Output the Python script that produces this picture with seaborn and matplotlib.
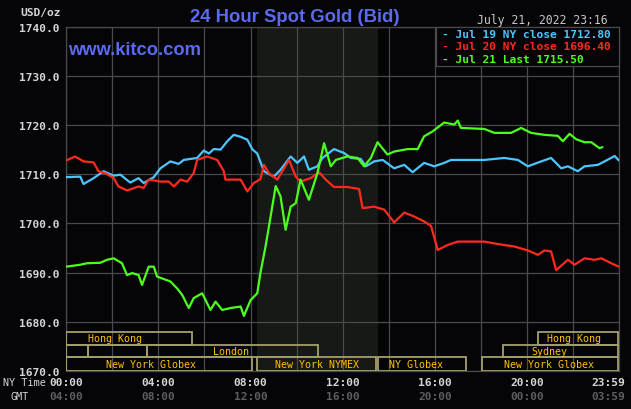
import numpy as np
import pandas as pd
import matplotlib
matplotlib.use("Agg")
import matplotlib.pyplot as plt
import matplotlib.transforms as mtransforms
from matplotlib.patches import Rectangle
import seaborn as sns

# ---------------- data ----------------
jul19_hours = [0.0, 0.61, 0.75, 1.19, 1.62, 2.06, 2.35, 2.78, 3.14, 3.36, 3.80, 4.09, 4.52, 4.88,
               5.10, 5.68, 5.97, 6.19, 6.40, 6.70, 6.99, 7.27, 7.57, 7.86, 8.07, 8.29, 8.58, 9.01,
               9.30, 9.74, 10.03, 10.32, 10.53, 10.90, 11.12, 11.62, 12.06, 12.35, 12.78, 13.00,
               13.36, 13.73, 14.23, 14.67, 15.03, 15.53, 15.97, 16.40, 16.70, 18.14, 19.01, 19.60,
               20.03, 20.61, 21.04, 21.48, 21.77, 22.20, 22.49, 23.07, 23.36, 23.80, 23.98]
jul19_price = [1709.4, 1709.5, 1708.0, 1709.2, 1710.6, 1709.7, 1709.9, 1708.3, 1709.2, 1708.2,
               1709.4, 1711.2, 1712.6, 1712.1, 1712.9, 1713.3, 1714.8, 1714.2, 1715.1, 1715.0,
               1716.7, 1718.0, 1717.6, 1717.0, 1715.1, 1714.2, 1710.6, 1709.5, 1710.9, 1713.6,
               1712.3, 1713.6, 1710.9, 1711.6, 1713.3, 1715.1, 1714.3, 1713.3, 1713.1, 1711.6,
               1712.6, 1712.9, 1711.2, 1711.9, 1710.4, 1712.3, 1711.6, 1712.3, 1712.9, 1712.9,
               1713.3, 1712.9, 1711.6, 1712.6, 1713.3, 1711.2, 1711.6, 1710.6, 1711.6, 1711.9,
               1712.6, 1713.7, 1712.8]

jul20_hours = [0.0, 0.39, 0.75, 1.19, 1.40, 1.70, 2.06, 2.27, 2.64, 3.14, 3.36, 3.58, 4.09, 4.45,
               4.67, 4.96, 5.25, 5.53, 5.68, 6.12, 6.55, 6.84, 6.91, 7.57, 7.86, 8.14, 8.43, 8.58,
               8.80, 9.16, 9.67, 9.96, 10.17, 10.61, 10.97, 11.26, 11.62, 12.20, 12.71, 12.86,
               13.36, 13.80, 14.23, 14.67, 15.10, 15.53, 15.83, 16.12, 16.55, 16.99, 18.14, 18.73,
               19.45, 20.03, 20.47, 20.75, 21.04, 21.26, 21.77, 22.06, 22.49, 22.93, 23.22, 23.65,
               23.98]
jul20_price = [1712.8, 1713.6, 1712.6, 1712.4, 1710.6, 1710.2, 1709.2, 1707.5, 1706.7, 1707.5,
               1707.2, 1708.9, 1708.5, 1708.5, 1707.5, 1708.9, 1708.5, 1710.2, 1712.9, 1713.6,
               1712.9, 1710.6, 1708.9, 1708.9, 1706.5, 1708.2, 1709.0, 1711.9, 1710.2, 1708.9,
               1712.9, 1709.5, 1708.5, 1709.2, 1710.4, 1708.9, 1707.4, 1707.4, 1707.0, 1703.1,
               1703.4, 1702.8, 1700.2, 1702.2, 1701.4, 1700.4, 1699.5, 1694.6, 1695.6, 1696.3,
               1696.3, 1695.8, 1695.3, 1694.5, 1693.6, 1694.5, 1694.3, 1690.5, 1692.6, 1691.6,
               1692.9, 1692.6, 1692.9, 1691.9, 1691.2]

jul21_hours = [0.0, 0.61, 0.90, 1.48, 1.77, 2.06, 2.42, 2.64, 2.86, 3.14, 3.29, 3.58, 3.80, 3.94,
               4.52, 4.81, 5.03, 5.32, 5.53, 5.90, 6.26, 6.48, 6.77, 7.13, 7.57, 7.71, 8.00, 8.29,
               8.43, 8.65, 8.87, 9.09, 9.30, 9.52, 9.74, 9.96, 10.17, 10.53, 10.90, 11.19, 11.48,
               11.70, 12.20, 12.64, 12.93, 13.22, 13.51, 13.94, 14.23, 14.81, 15.25, 15.53, 15.90,
               16.40, 16.84, 16.99, 17.13, 18.14, 18.58, 19.30, 19.74, 20.17, 20.75, 21.33, 21.55,
               21.84, 22.13, 22.49, 22.78, 23.14, 23.27]
jul21_price = [1691.2, 1691.6, 1691.9, 1692.0, 1692.6, 1692.9, 1691.9, 1689.5, 1689.9, 1689.5,
               1687.5, 1691.2, 1691.2, 1689.2, 1688.2, 1686.8, 1685.5, 1682.8, 1684.8, 1685.8,
               1682.4, 1684.1, 1682.4, 1682.8, 1683.1, 1681.2, 1684.4, 1685.8, 1690.0, 1695.3,
               1701.4, 1707.6, 1705.5, 1698.7, 1703.4, 1704.1, 1708.9, 1704.8, 1710.2, 1716.3,
               1711.6, 1712.9, 1713.6, 1713.3, 1711.6, 1713.3, 1716.5, 1714.0, 1714.6, 1715.1,
               1715.1, 1717.7, 1718.7, 1720.5, 1720.1, 1720.9, 1719.4, 1719.2, 1718.4, 1718.4,
               1719.4, 1718.4, 1718.0, 1717.8, 1716.7, 1718.2, 1717.1, 1716.5, 1716.5, 1715.3,
               1715.5]

series_names = ["Jul 19 NY close", "Jul 20 NY close", "Jul 21 Last"]
series_last = ["1712.80", "1696.40", "1715.50"]

y_ticks = [1670, 1680, 1690, 1700, 1710, 1720, 1730, 1740]
x_label_hours = [0, 4, 8, 12, 16, 20, 24]
ny_time_labels = ["00:00", "04:00", "08:00", "12:00", "16:00", "20:00", "23:59"]
gmt_labels = ["04:00", "08:00", "12:00", "16:00", "20:00", "00:00", "03:59"]

nymex_start, nymex_end = 8.26, 13.52

# session boxes: (label, start hour, end hour, row, label hour)
sessions = [
    ("Hong Kong", 0.0, 5.44, 0, 2.12),
    ("Hong Kong", 20.48, 23.93, 0, 22.04),
    ("", 0.0, 0.96, 1, None),
    ("", 0.96, 3.49, 1, None),
    ("London", 3.49, 10.94, 1, 7.15),
    ("Sydney", 18.96, 23.93, 1, 20.96),
    ("New York Globex", 0.0, 8.05, 2, 3.66),
    ("New York NYMEX", 8.26, 13.45, 2, 10.88),
    ("NY Globex", 13.52, 17.33, 2, 15.18),
    ("New York Globex", 18.03, 23.93, 2, 20.95),
]
row_edges = [1677.87, 1675.35, 1672.78, 1670.0]

# ---------------- style ----------------
bg = "#050507"
grid_c = "#4a4a4a"
shade_c = "#161916"
palette = {"Jul 19 NY close": "#4cc6ff", "Jul 20 NY close": "#ff2a1e", "Jul 21 Last": "#4cff1e"}
blue_c = "#5b6bef"
box_edge = "#a39f6c"
sess_text = "#ffc200"
tick_c = "#d4d4d4"
gmt_c = "#5e5e5e"

sns.set_theme(style="dark", rc={"axes.facecolor": bg, "figure.facecolor": bg})
plt.rcParams["font.family"] = ["DejaVu Sans Mono", "DejaVu Sans"]

df = pd.concat([
    pd.DataFrame({"hour": jul19_hours, "price": jul19_price, "series": series_names[0]}),
    pd.DataFrame({"hour": jul20_hours, "price": jul20_price, "series": series_names[1]}),
    pd.DataFrame({"hour": jul21_hours, "price": jul21_price, "series": series_names[2]}),
], ignore_index=True)

W, H = 631, 410
fig = plt.figure(figsize=(W / 100, H / 100), dpi=100, facecolor=bg)
ax_l, ax_r, ax_t, ax_b = 66.2, 619.3, 27.6, 372.0
ax = fig.add_axes([ax_l / W, 1 - ax_b / H, (ax_r - ax_l) / W, (ax_b - ax_t) / H])
ax.set_facecolor(bg)

ax.axvspan(nymex_start, nymex_end, color=shade_c, zorder=0, lw=0)

sns.lineplot(data=df, x="hour", y="price", hue="series", palette=palette,
             hue_order=series_names, legend=False, ax=ax, lw=1.6, zorder=3,
             estimator=None, sort=False)

ax.set_xlim(0, 24)
ax.set_ylim(1670, 1740)
ax.set_xticks(np.arange(0, 25, 2))
ax.set_xticklabels([])
ax.set_yticks(y_ticks)
ax.set_yticklabels([f"{v:.1f}" for v in y_ticks], color=tick_c, fontsize=8.1,
                   fontweight="bold", family="DejaVu Sans Mono")
ax.tick_params(axis="both", length=0)
ax.tick_params(axis="y", pad=4.5)
ax.set_xlabel("")
ax.set_ylabel("")
ax.grid(True, color=grid_c, lw=0.9)
ax.set_axisbelow(True)
for s in ax.spines.values():
    s.set_color(grid_c)
    s.set_linewidth(0.9)

# session boxes
for name, x0, x1, row, lx in sessions:
    y_top, y_bot = row_edges[row], row_edges[row + 1]
    ax.add_patch(Rectangle((x0, y_bot), x1 - x0, y_top - y_bot, fill=False,
                           edgecolor=box_edge, lw=1.3, zorder=4))
    if name:
        ax.text(lx, (y_top + y_bot) / 2, name, ha="center", va="center",
                color=sess_text, fontsize=7.2, family="DejaVu Sans Mono", zorder=5)

# legend box
lb = Rectangle((0.668, 0.8865), 0.332, 0.1135, transform=ax.transAxes,
               facecolor=bg, edgecolor=grid_c, lw=0.9, zorder=6, clip_on=False)
ax.add_patch(lb)
for i, (name, last) in enumerate(zip(series_names, series_last)):
    ax.text(0.6801, 0.9707 - i * 0.0365, f"- {name} {last}", transform=ax.transAxes,
            ha="left", va="baseline", color=palette[name], fontsize=8.1,
            fontweight="bold", family="DejaVu Sans Mono", zorder=7)

# x labels (two rows)
trans = mtransforms.blended_transform_factory(ax.transData, ax.transAxes)
for h, ny, gmt in zip(x_label_hours, ny_time_labels, gmt_labels):
    if h == 24:
        off = mtransforms.offset_copy(trans, fig=fig, x=5.5, y=0, units="dots")
        ha = "right"
    else:
        off = trans
        ha = "center"
    ax.text(h, -0.0328, ny, transform=off, ha=ha, va="center", color=tick_c,
            fontsize=8.1, fontweight="bold", family="DejaVu Sans Mono", clip_on=False)
    ax.text(h, -0.0717, gmt, transform=off, ha=ha, va="center", color=gmt_c,
            fontsize=8.1, fontweight="bold", family="DejaVu Sans Mono", clip_on=False)

fig.text(2.7 / W, 1 - 383.3 / H, "NY Time", ha="left", va="center", color=tick_c,
         fontsize=7.3, family="DejaVu Sans Mono")
fig.text(10.7 / W, 1 - 396.7 / H, "GMT", ha="left", va="center", color=tick_c,
         fontsize=7.3, family="DejaVu Sans Mono")
fig.text(61 / W, 1 - 13 / H, "USD/oz", ha="right", va="center", color=tick_c,
         fontsize=8.1, fontweight="bold", family="DejaVu Sans Mono")

# titles
fig.text(294.3 / W, 1 - 22 / H, "24 Hour Spot Gold (Bid)", ha="center", va="baseline",
         color=blue_c, fontsize=13.3, fontweight="bold", family="Liberation Sans")
fig.text(68.3 / W, 1 - 55 / H, "www.kitco.com", ha="left", va="baseline",
         color=blue_c, fontsize=13.2, fontweight="bold", family="Liberation Sans")
fig.text(542 / W, 1 - 24 / H, "July 21, 2022 23:16", ha="center", va="baseline",
         color="#c8c8c8", fontsize=8.3, family="DejaVu Sans Mono")

fig.savefig("out.png", dpi=100, facecolor=bg)
